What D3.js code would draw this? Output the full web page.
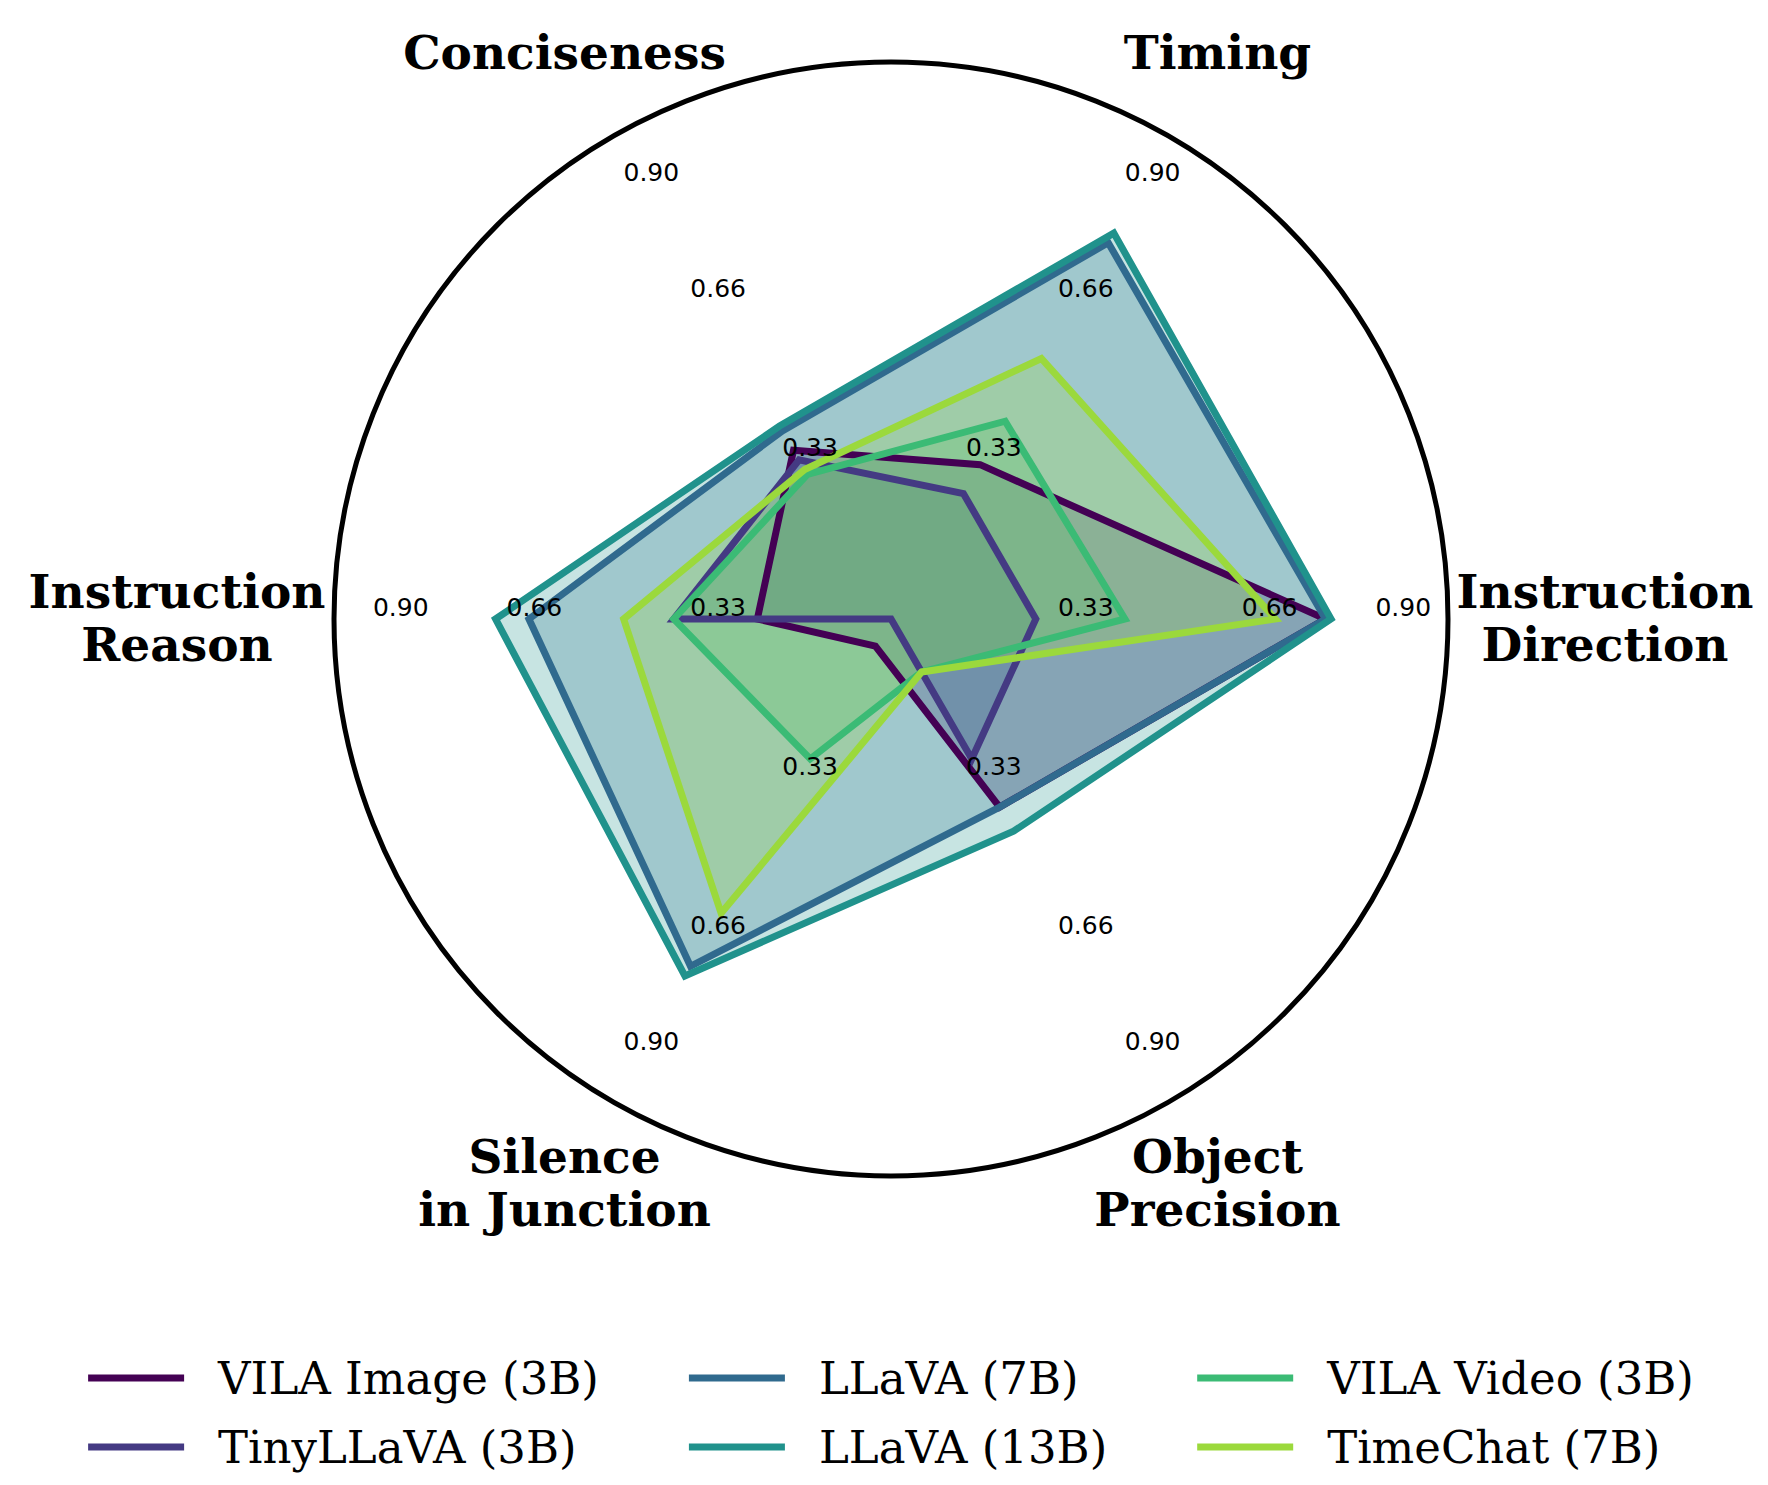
<!DOCTYPE html>
<meta charset="utf-8">
<script src="https://d3js.org/d3.v7.min.js"></script>
<style>
body { margin: 0; background: #fff; }
.cat text { font-family: "DejaVu Serif", serif; font-weight: bold; font-size: 47px; fill: #000; }
.tick text { font-family: "DejaVu Sans", sans-serif; font-size: 25px; fill: #000; }
.legend text { font-family: "DejaVu Serif", serif; font-size: 45px; fill: #000; }
</style>
<body>
<script>

// axes, counter-clockwise from the right
var categories = [
  ["Instruction", "Direction"],
  ["Timing"],
  ["Conciseness"],
  ["Instruction", "Reason"],
  ["Silence", "in Junction"],
  ["Object", "Precision"]
];

var models = ["VILA Image (3B)", "TinyLLaVA (3B)", "LLaVA (7B)", "LLaVA (13B)", "VILA Video (3B)", "TimeChat (7B)"];

var vilaImage  = [0.78, 0.32, 0.35, 0.24, 0.056, 0.39];
var tinyLlava  = [0.26, 0.26, 0.33, 0.39, 0.0, 0.29];
var llava7b    = [0.78, 0.78, 0.39, 0.65, 0.72, 0.39];
var llava13b   = [0.79, 0.80, 0.40, 0.71, 0.74, 0.44];
var vilaVideo  = [0.42, 0.41, 0.30, 0.39, 0.29, 0.11];
var timeChat   = [0.69, 0.54, 0.31, 0.48, 0.61, 0.11];

var seriesValues = [vilaImage, tinyLlava, llava7b, llava13b, vilaVideo, timeChat];

var tickValues = [0.33, 0.66, 0.90];
var tickLabels = ["0.33", "0.66", "0.90"];

var width = 1768, height = 1485;
var cx = 891, cy = 619, R = 557;

var svg = d3.select("body").append("svg")
    .attr("width", width)
    .attr("height", height);

var g = svg.append("g")
    .attr("transform", "translate(" + cx + "," + cy + ")");

var rScale = d3.scaleLinear().domain([0, 1]).range([0, R]);

// d3 radial angles: 0 at top, clockwise
var n = categories.length;
function angle(i) { return Math.PI / 2 - i * 2 * Math.PI / n; }

// viridis samples like linspace(0, 0.85, 6)
var colors = models.map(function(d, i) { return d3.interpolateViridis(i * 0.85 / (models.length - 1)); });

var radarLine = d3.lineRadial()
    .angle(function(d, i) { return angle(i); })
    .radius(function(d) { return rScale(d); })
    .curve(d3.curveLinearClosed);

// fills first, lines on top
seriesValues.forEach(function(vals, k) {
  g.append("path")
    .attr("d", radarLine(vals))
    .style("fill", colors[k])
    .style("fill-opacity", 0.25)
    .style("stroke", "none");
});
seriesValues.forEach(function(vals, k) {
  g.append("path")
    .attr("d", radarLine(vals))
    .style("fill", "none")
    .style("stroke", colors[k])
    .style("stroke-width", 7)
    .style("stroke-linejoin", "miter");
});

// outer circle
g.append("circle")
    .attr("r", R)
    .style("fill", "none")
    .style("stroke", "#000")
    .style("stroke-width", 5);

// radial tick labels on each axis
var ticks = g.append("g").attr("class", "tick");
d3.range(n).forEach(function(i) {
  var a = angle(i);
  tickValues.forEach(function(v, j) {
    var p = d3.pointRadial(a, rScale(v));
    ticks.append("text")
      .attr("x", p[0] + 11)
      .attr("y", p[1] - 12)
      .attr("text-anchor", "middle")
      .attr("dominant-baseline", "central")
      .text(tickLabels[j]);
  });
});

// category labels
var cats = g.append("g").attr("class", "cat");
var lineH = 53;
categories.forEach(function(lines, i) {
  var a = angle(i);
  var horizontal = Math.abs(Math.sin(a)) > 0.99;
  var p = d3.pointRadial(a, horizontal ? 714 : 653);
  var t = cats.append("text")
    .attr("text-anchor", "middle")
    .attr("dominant-baseline", "central");
  lines.forEach(function(s, j) {
    t.append("tspan")
      .attr("x", p[0])
      .attr("y", p[1] - 2 + (j - (lines.length - 1) / 2) * lineH)
      .text(s);
  });
});

// legend: 3 columns, 2 rows, filled column-wise
var legend = svg.append("g").attr("class", "legend");
var rowY = [1378, 1447];
var lineLen = 96, textGap = 34, colGap = 90;
var items = models.map(function(m, k) {
  var it = legend.append("g");
  it.append("line")
    .attr("x1", 0).attr("x2", lineLen)
    .attr("y1", rowY[k % 2]).attr("y2", rowY[k % 2])
    .style("stroke", colors[k])
    .style("stroke-width", 7);
  var tx = it.append("text")
    .attr("x", lineLen + textGap)
    .attr("y", rowY[k % 2])
    .attr("dominant-baseline", "central")
    .text(m);
  return { g: it, w: tx.node().getComputedTextLength() };
});
var colX = [], x = 0;
for (var c = 0; c < 3; c++) {
  colX.push(x);
  var w = Math.max(items[2 * c].w, items[2 * c + 1].w);
  x += lineLen + textGap + w + (c < 2 ? colGap : 0);
}
var x0 = cx - x / 2;
items.forEach(function(it, k) {
  it.g.attr("transform", "translate(" + (x0 + colX[Math.floor(k / 2)]) + ",0)");
});

</script>
</body>
